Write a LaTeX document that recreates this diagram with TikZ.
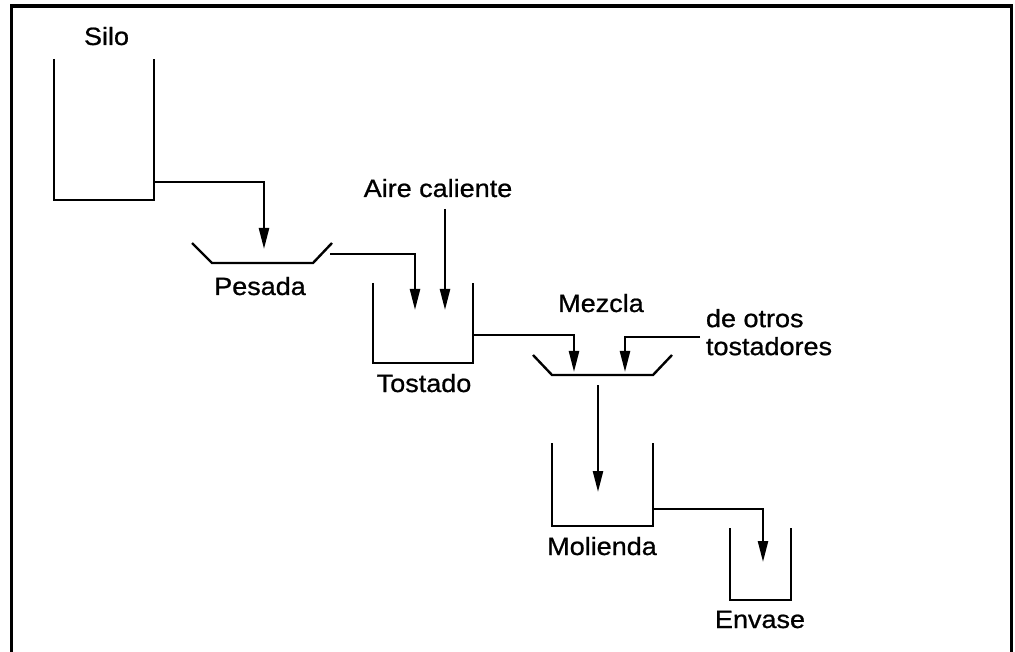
\documentclass[tikz,border=0pt]{standalone}
\usepackage{fontspec}
\setmainfont{Liberation Sans}[FakeStretch=1.08,FakeBold=0.8]
\usetikzlibrary{arrows.meta}
\begin{document}
\begin{tikzpicture}[x=1pt,y=-1pt,
  line width=2.4pt,
  vessel/.style={rectangle,inner sep=0pt,outer sep=0pt,draw=none},
  lbl/.style={inner sep=0pt,outer sep=0pt,anchor=base,font=\fontsize{25}{28}\selectfont},
  arr/.style={-{Triangle[length=21pt,width=10pt]}},
  frame/.style={line width=3.5pt,line cap=rect}]
\useasboundingbox (0,0) rectangle (1015,652);
% frame (open at bottom)
\draw[frame] (11.5,660) -- (11.5,6) -- (1011.5,6) -- (1011.5,660);

% vessels
\node[vessel,minimum width=100pt,minimum height=141pt] (silo) at (104,129.5) {};
\node[vessel,minimum width=100pt,minimum height=80pt] (tostado) at (423,323) {};
\node[vessel,minimum width=101pt,minimum height=83pt] (molienda) at (602.5,484.5) {};
\node[vessel,minimum width=61pt,minimum height=72pt] (envase) at (760.5,564) {};
\node[vessel,minimum width=140pt,minimum height=20pt] (pesada) at (262,253) {};
\node[vessel,minimum width=139pt,minimum height=20pt] (mezcla) at (602.5,365) {};

\foreach \v in {silo,tostado,molienda,envase}
  \draw (\v.north west) |- (\v.south east) -- (\v.north east);
\foreach \v/\a/\b in {pesada/20pt/-19pt,mezcla/19pt/-19pt}
  \draw (\v.north west) -- ([xshift=\a]\v.south west) -- ([xshift=\b]\v.south east) -- (\v.north east);

% labels
\node[lbl] (lsilo) at (106.5,45) {Silo};
\node[lbl] (lpesada) at (260,295) {Pesada};
\node[lbl] (laire) at (438,197) {Aire caliente};
\node[lbl] (ltostado) at (424,392) {Tostado};
\node[lbl] (lmezcla) at (601,312) {Mezcla};
\node[lbl,anchor=north west,align=left] (lotros) at (706,309) {de otros\\tostadores};
\node[lbl] (lmolienda) at (602,555) {Molienda};
\node[lbl] (lenvase) at (760,628) {Envase};

% connector points
\coordinate (s1) at (154,182);
\coordinate (p_in) at (264,249);
\coordinate (p_out) at (330,254);
\coordinate (t_in1) at (415,310);
\coordinate (a_start) at (445,209);
\coordinate (t_in2) at (445,310);
\coordinate (t_out) at (473,335);
\coordinate (m_in1) at (574,372);
\coordinate (o_start) at (700,337);
\coordinate (m_in2) at (625,372);
\coordinate (m_out) at (598,385);
\coordinate (mo_in) at (598,492);
\coordinate (mo_out) at (653,509);
\coordinate (e_in) at (763,562);

% connectors
\draw[arr] (s1) -| (p_in);
\draw[arr] (p_out) -| (t_in1);
\draw[arr] (a_start) -- (t_in2);
\draw[arr] (t_out) -| (m_in1);
\draw[arr] (o_start) -| (m_in2);
\draw[arr] (m_out) -- (mo_in);
\draw[arr] (mo_out) -| (e_in);
\end{tikzpicture}
\end{document}
